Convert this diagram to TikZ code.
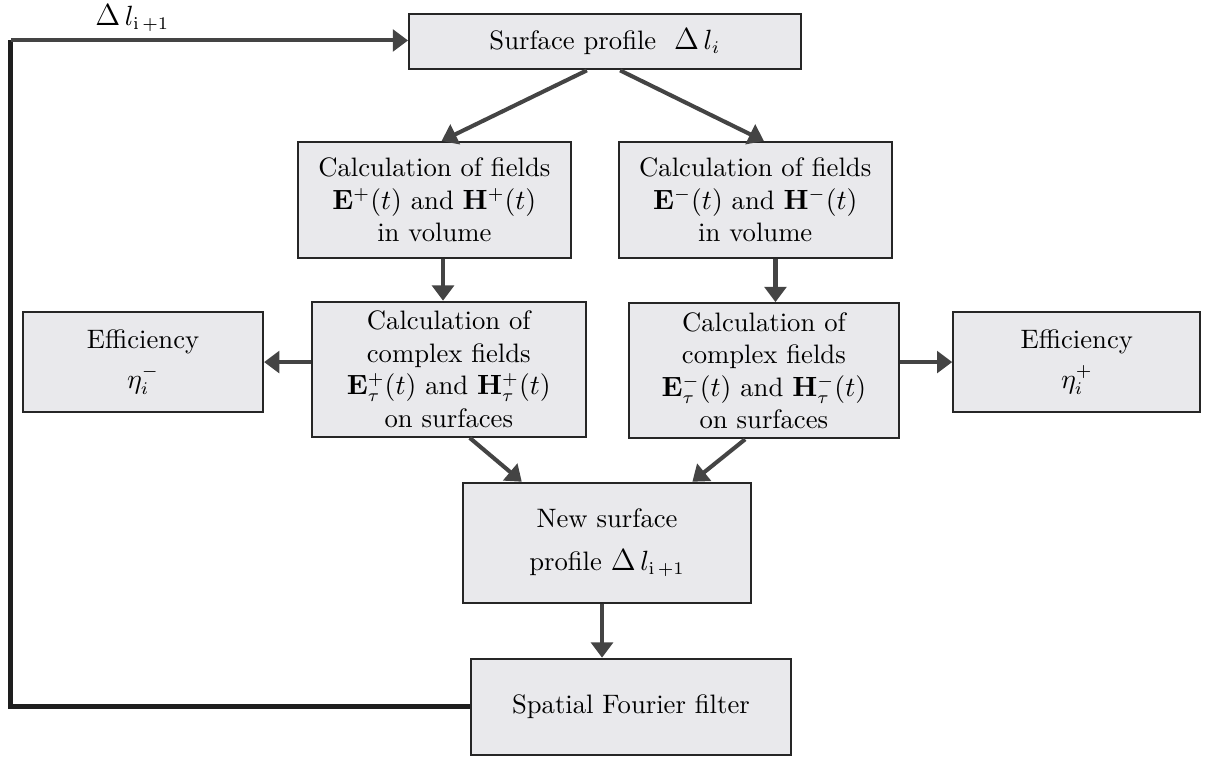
\documentclass[tikz,border=0pt]{standalone}
\usepackage{amsmath}
\usetikzlibrary{arrows.meta}
\definecolor{boxfill}{RGB}{233,233,236}
\definecolor{boxline}{RGB}{38,38,38}
\definecolor{arrcol}{RGB}{68,68,68}
\definecolor{fbcol}{RGB}{30,30,30}
\newcommand{\bigDelta}{\mbox{\fontsize{12}{12}\selectfont$\Delta$}}
\begin{document}
\begin{tikzpicture}[
		font=\fontsize{10.5}{12.8}\selectfont,
		block/.style={rectangle,draw=boxline,line width=0.8pt,fill=boxfill,align=center,inner sep=2pt},
		arr/.style={draw=arrcol,line width=1.6pt,-{Triangle[length=6pt,width=8.5pt]},fill=arrcol},
		fb/.style={draw=fbcol,line width=1.85pt}
	]
	\useasboundingbox (0,0) rectangle (16.715,-10.502);
	\node[block,minimum width=5.42cm,minimum height=0.76cm] (top) at (8.37,-0.58) {Surface profile \ $\bigDelta\, l_i$};
	\node[block,minimum width=3.78cm,minimum height=1.61cm] (lvol) at (6.01,-2.77) {Calculation of fields\\ $\mathbf{E}^{+}(t)$ and $\mathbf{H}^{+}(t)$\\ in volume};
	\node[block,minimum width=3.78cm,minimum height=1.61cm] (rvol) at (10.45,-2.77) {Calculation of fields\\ $\mathbf{E}^{-}(t)$ and $\mathbf{H}^{-}(t)$\\ in volume};
	\node[block,minimum width=3.32cm,minimum height=1.38cm] (effL) at (1.98,-5.01) {Efficiency\\[3pt] $\eta_i^{-}$};
	\node[block,minimum width=3.79cm,minimum height=1.87cm] (lcx) at (6.21,-5.11) {Calculation of\\ complex fields\\ $\mathbf{E}_{\tau}^{+}(t)$ and $\mathbf{H}_{\tau}^{+}(t)$\\ on surfaces};
	\node[block,minimum width=3.74cm,minimum height=1.87cm] (rcx) at (10.57,-5.13) {Calculation of\\ complex fields\\ $\mathbf{E}_{\tau}^{-}(t)$ and $\mathbf{H}_{\tau}^{-}(t)$\\ on surfaces};
	\node[block,minimum width=3.42cm,minimum height=1.38cm] (effR) at (14.90,-5.01) {Efficiency\\[3pt] $\eta_i^{+}$};
	\node[block,minimum width=3.99cm,minimum height=1.66cm] (new) at (8.40,-7.51) {New surface\\[4pt] profile $\bigDelta\, l_{\mathrm{i}\,+1}$};
	\node[block,minimum width=4.43cm,minimum height=1.33cm] (four) at (8.73,-9.78) {Spatial Fourier filter};
	\node (dlab) at (1.83,-0.25) {$\bigDelta\, l_{\mathrm{i}\,+1}$};
	\coordinate (corner) at (0.15,-0.56);
	% branches
	\draw[arr] ([xshift=-0.25cm]top.south) -- ([xshift=0.1cm]lvol.north);
	\draw[arr] ([xshift=0.21cm]top.south) -- ([xshift=0.12cm]rvol.north);
	\draw[arr] ([xshift=0.12cm]lvol.south) -- ([xshift=0.12cm]lvol.south |- lcx.north);
	\draw[arr] ([xshift=0.28cm]rvol.south) -- ([xshift=0.28cm]rvol.south |- rcx.north);
	\draw[arr] (lcx.west |- effL.east) -- (effL.east);
	\draw[arr] (rcx.east |- effR.west) -- (effR.west);
	\draw[arr] ([xshift=0.29cm]lcx.south) -- ([xshift=-1.18cm]new.north);
	\draw[arr] ([xshift=-0.26cm]rcx.south) -- ([xshift=1.18cm]new.north);
	\draw[arr] ([xshift=-0.07cm]new.south) -- ([xshift=-0.07cm]new.south |- four.north);
	% feedback
	\draw[fb] (four.west) -| (corner);
	\draw[arr] (corner) -- (corner -| top.west);
\end{tikzpicture}
\end{document}
